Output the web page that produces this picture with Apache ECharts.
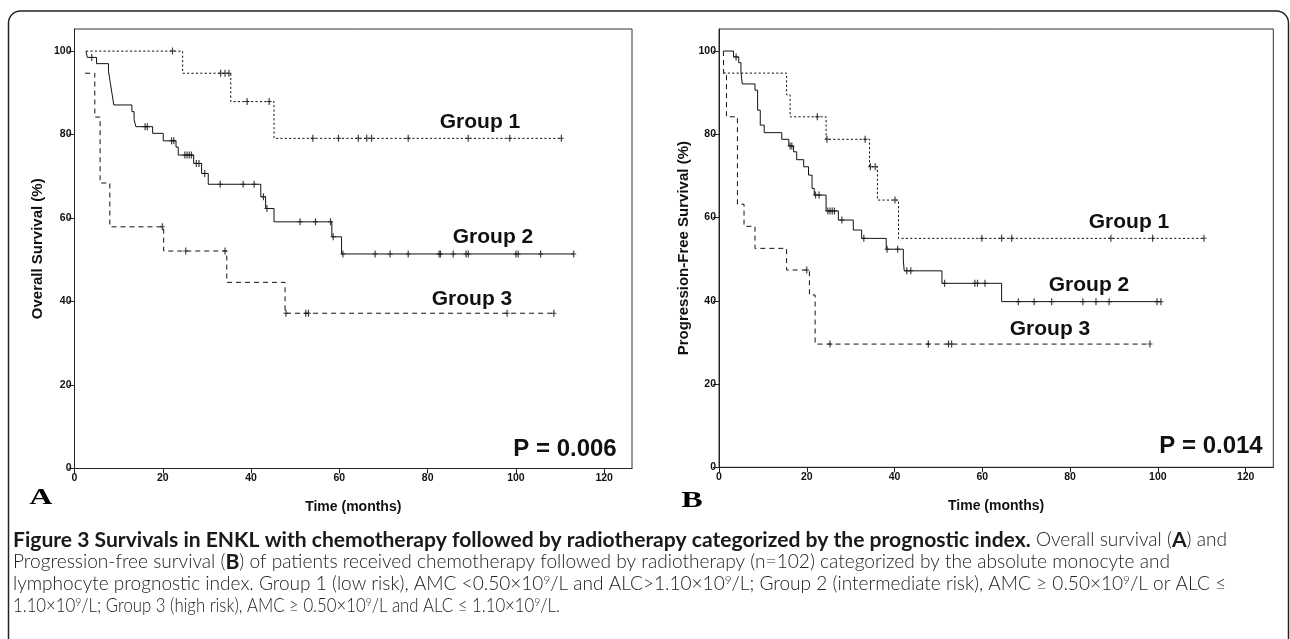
<!DOCTYPE html>
<html><head><meta charset="utf-8">
<script src="https://cdn.jsdelivr.net/npm/echarts@6/dist/echarts.min.js"></script>
<style>html,body{margin:0;padding:0;background:#fff;}#c{width:1290px;height:639px;}</style>
</head><body><div id="c"></div>
<script>
// ---------- DATA ----------
const xTicks = [0, 20, 40, 60, 80, 100, 120];
const yTicks = [0, 20, 40, 60, 80, 100];

// Panel A: Overall survival (time in months, survival in %)
const A_g1_time = [2.6, 24.5, 35.4, 45.2];
const A_g1_surv = [100, 94.7, 87.9, 79.1];
const A_g1_end = 110.3;
const A_g1_cens = [22.2, 33.1, 34.1, 35.0, 39.1, 44.1, 54.0, 59.8, 64.3, 66.2, 67.3, 75.6, 89.2, 98.6, 110.3];

const A_g2_time = [2.6, 2.9, 5.0, 7.7, 8.1, 8.5, 8.9, 13.0, 13.5, 13.9, 17.7, 20.1, 23.0, 23.5, 27.0, 28.8, 30.3, 42.2, 43.3, 45.2, 58.3, 60.5];
const A_g2_surv = [100, 98.5, 97.0, 95.2, 92.5, 89.8, 87.1, 85.5, 83.6, 81.9, 80.3, 78.5, 77.0, 75.1, 73.1, 70.7, 68.1, 65.1, 62.3, 59.1, 55.5, 51.4];
const A_g2_end = 113.1;
const A_g2_cens = [3.9, 16.0, 16.5, 22.0, 22.5, 25.0, 25.5, 26.0, 26.5, 27.6, 28.2, 29.5, 33.0, 38.2, 40.7, 42.8, 43.6, 51.1, 54.6, 58.0, 58.6, 60.8, 68.1, 71.5, 75.6, 82.6, 82.9, 85.8, 88.7, 89.2, 100.0, 100.5, 105.6, 113.1];

const A_g3_time = [2.4, 4.6, 5.8, 8.0, 20.2, 34.5, 47.7];
const A_g3_surv = [94.7, 84.2, 68.4, 57.9, 52.1, 44.6, 37.2];
const A_g3_end = 108.6;
const A_g3_cens = [19.9, 25.2, 34.1, 47.9, 52.4, 53.0, 98.0, 108.6];

// Panel B: Progression-free survival
const B_g1_time = [1.0, 15.4, 16.2, 24.4, 34.3, 36.1, 40.9];
const B_g1_surv = [94.7, 89.5, 84.2, 78.8, 72.2, 64.2, 55.0];
const B_g1_end = 110.5;
const B_g1_cens = [22.4, 24.6, 33.3, 34.5, 35.6, 40.1, 59.9, 64.4, 66.7, 89.3, 98.8, 110.5];

const B_g2_time = [1.0, 3.3, 4.5, 5.0, 5.3, 8.2, 8.8, 9.4, 10.3, 14.3, 15.9, 17.0, 17.7, 19.3, 20.4, 21.2, 21.7, 24.4, 27.2, 30.6, 32.5, 38.1, 42.0, 42.2, 50.8, 64.4];
const B_g2_surv = [100, 98.6, 97.2, 95.0, 92.1, 90.6, 85.8, 82.2, 80.4, 78.8, 77.2, 75.8, 73.9, 72.2, 70.2, 67.0, 65.4, 61.6, 59.4, 57.0, 55.0, 52.4, 49.8, 47.2, 44.2, 39.8];
const B_g2_end = 100.7;
const B_g2_cens = [3.9, 16.2, 16.6, 22.0, 22.8, 24.8, 25.3, 25.8, 26.3, 28.0, 33.0, 38.3, 40.7, 42.8, 43.7, 51.4, 58.3, 58.9, 60.6, 68.2, 71.8, 75.8, 82.9, 85.9, 88.9, 99.8, 100.7];

const B_g3_time = [1.0, 1.05, 1.7, 4.2, 5.7, 8.2, 15.4, 20.6, 21.9];
const B_g3_surv = [100, 94.7, 84.2, 63.2, 57.9, 52.6, 47.4, 41.4, 29.6];
const B_g3_end = 98.2;
const B_g3_cens = [20.0, 25.3, 47.7, 52.3, 53.0, 98.2];

const groupNames = ['Group 1', 'Group 2', 'Group 3'];
const pValues = ['P = 0.006', 'P = 0.014'];
const yTitles = ['Overall Survival (%)', 'Progression-Free Survival (%)'];
const xTitle = 'Time (months)';
const panelLetters = ['A', 'B'];

// ---------- BUILD ----------
const FONT = '"Liberation Sans", Arial, Helvetica, sans-serif';
const INK = '#111';
const lineTypes = [[2.2, 2.2], 'solid', [5, 4]];
const CROSS = 'path://M0,3L5,3L5,4L0,4Z M1.9,0L3.1,0L3.1,7L1.9,7Z';

function curveData(T, S, end) {
  const d = T.map((t, i) => [t, S[i]]);
  d.push([end, S[S.length - 1]]);
  return d;
}
function censData(T, S, C) {
  return C.map(c => {
    let v = S[0];
    for (let i = 0; i < T.length; i++) if (T[i] <= c) v = S[i];
    return [c, v];
  });
}

const panels = [
  [[A_g1_time, A_g1_surv, A_g1_end, A_g1_cens], [A_g2_time, A_g2_surv, A_g2_end, A_g2_cens], [A_g3_time, A_g3_surv, A_g3_end, A_g3_cens]],
  [[B_g1_time, B_g1_surv, B_g1_end, B_g1_cens], [B_g2_time, B_g2_surv, B_g2_end, B_g2_cens], [B_g3_time, B_g3_surv, B_g3_end, B_g3_cens]]
];

const series = [];
panels.forEach((groups, p) => {
  groups.forEach((g, k) => {
    series.push({
      type: 'line', xAxisIndex: p, yAxisIndex: p, step: 'end', symbol: 'none',
      name: groupNames[k], data: curveData(g[0], g[1], g[2]),
      lineStyle: { color: INK, width: 1, type: lineTypes[k] }, z: 3, silent: true
    });
    series.push({
      type: 'scatter', xAxisIndex: p, yAxisIndex: p, symbol: CROSS, symbolSize: [5, 7],
      data: censData(g[0], g[1], g[3]), itemStyle: { color: INK }, z: 4, silent: true
    });
  });
});

function xAxis(i) {
  return {
    gridIndex: i, type: 'value', min: 0, max: 126.3,
    name: xTitle, nameLocation: 'middle', nameGap: 32,
    nameTextStyle: { fontFamily: FONT, fontSize: 14, fontWeight: 'bold', color: INK },
    axisLine: { show: true, lineStyle: { color: '#222', width: 1 } },
    axisTick: { show: true, length: 5, customValues: xTicks, lineStyle: { color: '#222' } },
    axisLabel: { customValues: xTicks, margin: 4, fontFamily: FONT, fontSize: 10.5, fontWeight: 'bold', color: INK },
    splitLine: { show: false }
  };
}
function yAxis(i, gap) {
  return {
    gridIndex: i, type: 'value', min: 0, max: 105.3,
    name: yTitles[i], nameLocation: 'middle', nameRotate: 90, nameGap: gap,
    nameTextStyle: { fontFamily: FONT, fontSize: 15, fontWeight: 'bold', color: INK },
    axisLine: { show: true, lineStyle: { color: '#222', width: 1 } },
    axisTick: { show: true, length: 6, customValues: yTicks, lineStyle: { color: '#222' } },
    axisLabel: { customValues: yTicks, margin: 3, fontFamily: FONT, fontSize: 10.5, fontWeight: 'bold', color: INK },
    splitLine: { show: false }
  };
}

function label(text, x, y, size) {
  return { type: 'text', x: x, y: y, z: 10,
    style: { text: text, x: 0, y: 0, align: 'center', verticalAlign: 'middle',
      font: 'bold ' + size + 'px ' + FONT, fill: INK } };
}

// caption (rich text lines)
const capLines = [
  [['b', 'Figure 3 Survivals in ENKL with chemotherapy followed by radiotherapy categorized by the prognostic index.'], ['n', ' Overall survival ('], ['b', 'A'], ['n', ') and']],
  [['n', 'Progression-free survival ('], ['b', 'B'], ['n', ') of patients received chemotherapy followed by radiotherapy (n=102) categorized by the absolute monocyte and']],
  [['n', 'lymphocyte prognostic index. Group 1 (low risk), AMC <0.50\u00d710'], ['s', '9'], ['n', '/L and ALC>1.10\u00d710'], ['s', '9'], ['n', '/L; Group 2 (intermediate risk), AMC \u2265 0.50\u00d710'], ['s', '9'], ['n', '/L or ALC \u2264']],
  [['n', '1.10\u00d710'], ['s', '9'], ['n', '/L; Group 3 (high risk), AMC \u2265 0.50\u00d710'], ['s', '9'], ['n', '/L and ALC \u2264 1.10\u00d710'], ['s', '9'], ['n', '/L.']]
];
const capTargetW = [1214, 1157, 1213, 547];
const CAP_FONT = 'Lato, "Open Sans", sans-serif';
const ctx = document.createElement('canvas').getContext('2d');
function segFont(kind, bSize, nSize) {
  if (kind === 'b') return 'bold ' + bSize.toFixed(2) + 'px ' + CAP_FONT;
  if (kind === 's') return '300 ' + (nSize * 0.62).toFixed(2) + 'px ' + CAP_FONT;
  return '300 ' + nSize.toFixed(2) + 'px ' + CAP_FONT;
}
function lineW(line, bSize, nSize) {
  let w = 0;
  line.forEach(([k, t]) => { ctx.font = segFont(k, bSize, nSize); w += ctx.measureText(t).width; });
  return w;
}
// regular size fitted on line 2, bold size fitted on line 1
const nSize = 16 * capTargetW[1] / lineW(capLines[1], 16, 16);
let bSize = 16;
for (let it = 0; it < 6; it++) {
  const w = lineW(capLines[0], bSize, nSize);
  const wn = lineW(capLines[0], 0.0001, nSize);
  bSize = bSize * (capTargetW[0] - wn) / (w - wn);
}
const rich = {
  b: { font: segFont('b', bSize, nSize), fill: '#1a1a1a', lineHeight: 20 },
  n: { font: segFont('n', bSize, nSize), fill: '#222', lineHeight: 20 },
  s: { font: segFont('s', bSize, nSize), fill: '#222', lineHeight: 10, verticalAlign: 'top' }
};
const capY = [540, 562, 584, 606];
const capGraphics = capLines.map((line, i) => {
  const sx = Math.min(1.05, capTargetW[i] / lineW(line, bSize, nSize));
  return {
    type: 'text', x: 13, y: capY[i], z: 10, scaleX: sx,
    style: { text: line.map(([k, t]) => '{' + k + '|' + t + '}').join(''), rich: rich,
      x: 0, y: 0, align: 'left', verticalAlign: 'middle' }
  };
});

const option = {
  animation: false,
  backgroundColor: '#fff',
  grid: [
    { left: 74.5, right: 658, top: 29, bottom: 170.5, show: true, borderColor: '#333', borderWidth: 1, backgroundColor: 'transparent' },
    { left: 719, right: 16.7, top: 29, bottom: 171.7, show: true, borderColor: '#333', borderWidth: 1, backgroundColor: 'transparent' }
  ],
  xAxis: [xAxis(0), xAxis(1)],
  yAxis: [yAxis(0, 29), yAxis(1, 28)],
  series: series,
  graphic: [
    { type: 'rect', shape: { x: 8.5, y: 11, width: 1280, height: 720, r: 12 }, style: { fill: 'none', stroke: '#222', lineWidth: 1.5 }, z: 1, silent: true },
    label(groupNames[0], 480, 122, 21),
    label(groupNames[1], 493, 237, 21),
    label(groupNames[2], 472, 299, 21),
    label(pValues[0], 565, 449, 24),
    label(groupNames[0], 1129, 222, 21),
    label(groupNames[1], 1089, 285, 21),
    label(groupNames[2], 1050, 329, 21),
    label(pValues[1], 1211, 446, 24),
    { type: 'text', x: 41, y: 498, scaleX: 1.4, z: 10,
      style: { text: panelLetters[0], x: 0, y: 0, align: 'center', verticalAlign: 'middle', font: 'bold 23px "Liberation Serif", "Times New Roman", serif', fill: '#000' } },
    { type: 'text', x: 692, y: 501, scaleX: 1.4, z: 10,
      style: { text: panelLetters[1], x: 0, y: 0, align: 'center', verticalAlign: 'middle', font: 'bold 23px "Liberation Serif", "Times New Roman", serif', fill: '#000' } }
  ].concat(capGraphics)
};

const chart = echarts.init(document.getElementById('c'), null, { renderer: 'canvas' });
chart.setOption(option);
</script>
</body></html>
